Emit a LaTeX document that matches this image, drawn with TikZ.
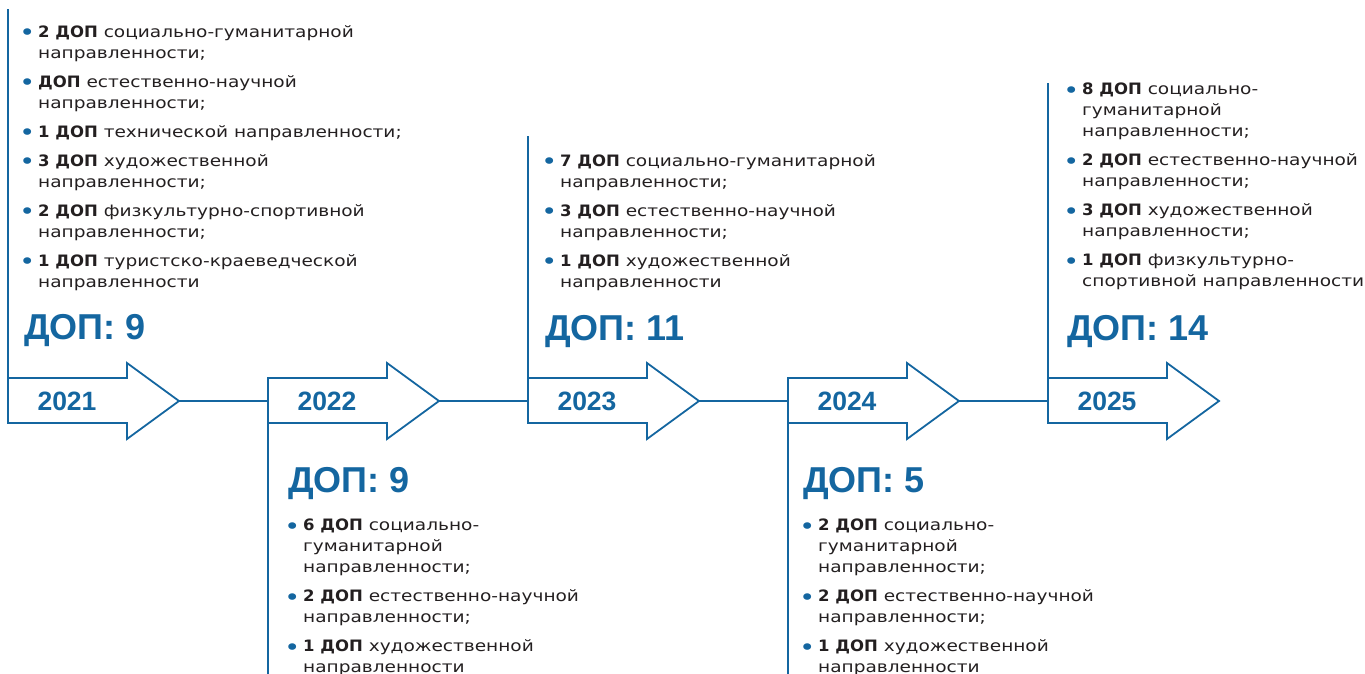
\documentclass[tikz,border=0pt]{standalone}
\usepackage{fontspec}
\usepackage{graphicx}
\setmainfont[FakeStretch=1.18, BoldFeatures={FakeStretch=1.05}]{DejaVu Sans}
\newfontfamily\yearfont{Liberation Sans}
\usepackage{xcolor}
\usetikzlibrary{arrows.meta, positioning, calc}

\definecolor{dopblue}{RGB}{20,102,160}
\definecolor{dopink}{RGB}{35,31,32}
\newcommand{\dopitem}{\llap{\textcolor{dopblue}{\raisebox{-3.4pt}{\scalebox{1.45}{\textbullet}}}\hspace{3pt}}}

\begin{document}
\begin{tikzpicture}[x=1pt, y=-1pt,
    timeline/.style={draw=dopblue, line width=1.8pt},
    yearlabel/.style={font=\yearfont\bfseries\fontsize{26.5}{30}\selectfont, text=dopblue, inner sep=0pt},
    total/.style={font=\yearfont\bfseries\fontsize{36}{40}\selectfont, text=dopblue, inner sep=0pt, anchor=base west},
    dlist/.style={font=\fontsize{15.7}{21}\selectfont, text=dopink, align=left, inner sep=0pt, anchor=north west}]

    \useasboundingbox (0,0) rectangle (1365,674);

    % block arrows of the years
    \foreach \x/\yr in {8/2021, 268/2022, 528/2023, 788/2024, 1048/2025} {
        \draw [timeline, line join=miter] (\x,378) -- (\x+119,378) -- (\x+119,363) -- (\x+171,401)
            -- (\x+119,439) -- (\x+119,423) -- (\x,423) -- cycle;
        \node [yearlabel] (y\yr) at (\x+59,401) {\yr};
        \coordinate (tip\yr) at (\x+171,401);
        \coordinate (mid\yr) at (\x,401);
        \coordinate (top\yr) at (\x,378);
        \coordinate (bot\yr) at (\x,423);
    }

    % links between the arrows
    \draw [timeline] (tip2021) -- (mid2022);
    \draw [timeline] (tip2022) -- (mid2023);
    \draw [timeline] (tip2023) -- (mid2024);
    \draw [timeline] (tip2024) -- (mid2025);

    % side lines
    \coordinate (end2021) at (8,9);
    \coordinate (end2022) at (268,674);
    \coordinate (end2023) at (528,136);
    \coordinate (end2024) at (788,674);
    \coordinate (end2025) at (1048,83);
    \draw [timeline] (top2021) -- (end2021);
    \draw [timeline] (bot2022) -- (end2022);
    \draw [timeline] (top2023) -- (end2023);
    \draw [timeline] (bot2024) -- (end2024);
    \draw [timeline] (top2025) -- (end2025);

    % totals
    \node [total] (t2021) at (24,339) {ДОП: 9};
    \node [total] (t2022) at (288,492) {ДОП: 9};
    \node [total] (t2023) at (545,340) {ДОП: 11};
    \node [total] (t2024) at (803,492) {ДОП: 5};
    \node [total] (t2025) at (1067,340) {ДОП: 14};

    % programmes
    \node [dlist] (l2021) at (38,25) {\dopitem\textbf{2 ДОП} социально-гуманитарной\\
        направленности;\\[8pt]
        \dopitem\textbf{ДОП} естественно-научной\\
        направленности;\\[8pt]
        \dopitem\textbf{1 ДОП} технической направленности;\\[8pt]
        \dopitem\textbf{3 ДОП} художественной\\
        направленности;\\[8pt]
        \dopitem\textbf{2 ДОП} физкультурно-спортивной\\
        направленности;\\[8pt]
        \dopitem\textbf{1 ДОП} туристско-краеведческой\\
        направленности};
    \node [dlist] (l2022) at (303,519) {\dopitem\textbf{6 ДОП} социально-\\
        гуманитарной\\
        направленности;\\[8pt]
        \dopitem\textbf{2 ДОП} естественно-научной\\
        направленности;\\[8pt]
        \dopitem\textbf{1 ДОП} художественной\\
        направленности};
    \node [dlist] (l2023) at (560,154) {\dopitem\textbf{7 ДОП} социально-гуманитарной\\
        направленности;\\[8pt]
        \dopitem\textbf{3 ДОП} естественно-научной\\
        направленности;\\[8pt]
        \dopitem\textbf{1 ДОП} художественной\\
        направленности};
    \node [dlist] (l2024) at (818,519) {\dopitem\textbf{2 ДОП} социально-\\
        гуманитарной\\
        направленности;\\[8pt]
        \dopitem\textbf{2 ДОП} естественно-научной\\
        направленности;\\[8pt]
        \dopitem\textbf{1 ДОП} художественной\\
        направленности};
    \node [dlist] (l2025) at (1082,83) {\dopitem\textbf{8 ДОП} социально-\\
        гуманитарной\\
        направленности;\\[8pt]
        \dopitem\textbf{2 ДОП} естественно-научной\\
        направленности;\\[8pt]
        \dopitem\textbf{3 ДОП} художественной\\
        направленности;\\[8pt]
        \dopitem\textbf{1 ДОП} физкультурно-\\
        спортивной направленности};
\end{tikzpicture}
\end{document}
